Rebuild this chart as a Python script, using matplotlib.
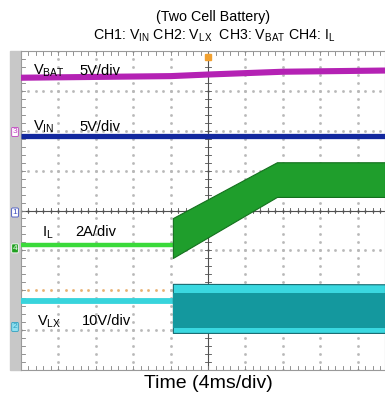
import numpy as np
import matplotlib
matplotlib.use('Agg')
import matplotlib.pyplot as plt

plt.rcParams['font.family'] = ['Liberation Sans', 'DejaVu Sans']
plt.rcParams['mathtext.default'] = 'regular'

# screen in divisions: 10 x 8, right edge of capture is cut at ~9.73 div
X_MAX = 9.73
STEP_T = 4.06      # converter starts switching
RAMP_END = 6.84    # inductor current stops ramping

# CH3 V_BAT (5V/div)
vbat_t = [0.0, 4.0, 5.0, 7.0, X_MAX]
vbat_y = [7.33, 7.37, 7.41, 7.48, 7.51]

# CH1 V_IN (5V/div)
vin_t = [0.0, X_MAX]
vin_y = [5.86, 5.86]

# CH4 I_L (2A/div)
il_flat_t = [0.0, STEP_T]
il_flat_y = [3.13, 3.13]
il_band_t = [STEP_T, RAMP_END, X_MAX]
il_band_top = [3.81, 5.21, 5.21]
il_band_bot = [2.81, 4.34, 4.34]

# CH2 V_LX (10V/div)
vlx_flat_t = [0.0, STEP_T]
vlx_flat_y = [1.73, 1.73]
vlx_band_t = [STEP_T, X_MAX]
vlx_outer_top = [2.16, 2.15]
vlx_outer_bot = [0.93, 0.93]
vlx_inner_top = [1.93, 1.93]
vlx_inner_bot = [1.05, 1.05]

fig = plt.figure(figsize=(3.85, 3.96), dpi=100)
W, H = 385, 396
ax = fig.add_axes([21 / W, 26 / H, (W - 21) / W, 319 / H])
ax.set_zorder(2)
ax.set_xlim(0, X_MAX)
ax.set_ylim(0, 8)
ax.set_xticks([])
ax.set_yticks([])
for s in ax.spines.values():
    s.set_color('#9a9a9a')
    s.set_linewidth(0.8)

# gray strip left of the screen
fig.patches.append(plt.Rectangle((10 / W, 26 / H), 11 / W, 319 / H,
                                 transform=fig.transFigure, color='#c8c8c8', zorder=-1))

# dotted graticule
dots = np.arange(0, X_MAX, 0.2)
for gy in range(1, 8):
    col = '#e8b070' if gy == 2 else '#b8b8b8'
    ax.plot(dots, np.full_like(dots, gy), ls='none', marker='s', ms=0.9, color=col, zorder=1)
ydots = np.arange(0, 8.01, 0.2)
for gx in range(1, 10):
    if gx == 5:
        continue
    ax.plot(np.full_like(ydots, gx), ydots, ls='none', marker='s', ms=0.9, color='#b8b8b8', zorder=1)

# center cross with minor ticks
ax.axhline(4, color='#505050', lw=0.8, zorder=1)
ax.axvline(5, color='#505050', lw=0.8, zorder=1)
for tx in np.arange(0, X_MAX, 0.2):
    ax.plot([tx, tx], [3.93, 4.07], color='#505050', lw=0.6, zorder=1)
    ax.plot([tx, tx], [7.9, 8.0], color='#808080', lw=0.6, zorder=1)
    ax.plot([tx, tx], [0.0, 0.1], color='#808080', lw=0.6, zorder=1)
for ty in np.arange(0, 8.01, 0.2):
    ax.plot([4.92, 5.08], [ty, ty], color='#505050', lw=0.6, zorder=1)
    ax.plot([0, 0.1], [ty, ty], color='#808080', lw=0.6, zorder=1)

# traces
ax.plot(vbat_t, vbat_y, color='#b422b4', lw=4.4, solid_capstyle='butt', zorder=3)
ax.plot(vin_t, vin_y, color='#12289e', lw=3.8, solid_capstyle='butt', zorder=3)

ax.plot(il_flat_t, il_flat_y, color='#3ada3a', lw=3.2, solid_capstyle='butt', zorder=3)
ax.fill_between(il_band_t, il_band_bot, il_band_top, color='#1f9e2c',
                edgecolor='#14701e', lw=0.8, zorder=3)

ax.plot(vlx_flat_t, vlx_flat_y, color='#38d4dc', lw=4.2, solid_capstyle='butt', zorder=3)
ax.fill_between(vlx_band_t, vlx_outer_bot, vlx_outer_top, color='#3ad8e0',
                edgecolor='#186a70', lw=0.8, zorder=3)
ax.fill_between(vlx_band_t, vlx_inner_bot, vlx_inner_top, color='#14989e', lw=0, zorder=3)

# trigger marker
ax.plot([5.0], [7.85], marker='s', ms=5, color='#f0a030', zorder=4)

# channel reference markers on the left edge
markers = [('3', 5.97, '#c040c0', 'white'), ('1', 3.95, '#4050c0', 'white'),
           ('4', 3.05, 'white', '#20a020'), ('2', 1.08, '#30a0c0', '#90e0f0')]
for lab, yy, tc, fc in markers:
    ax.text(-0.16, yy, lab, fontsize=6, color=tc, ha='center', va='center', clip_on=False,
            bbox=dict(boxstyle='round,pad=0.12', fc=fc, ec=tc, lw=0.6), zorder=5)

# channel labels
lab_fs = 10.5
ax.text(0.32, 7.4, r'V$_{BAT}$', fontsize=lab_fs, zorder=5)
ax.text(1.55, 7.4, '5V/div', fontsize=lab_fs, zorder=5)
ax.text(0.32, 6.0, r'V$_{IN}$', fontsize=lab_fs, zorder=5)
ax.text(1.55, 6.0, '5V/div', fontsize=lab_fs, zorder=5)
ax.text(0.57, 3.35, r'I$_{L}$', fontsize=lab_fs, zorder=5)
ax.text(1.45, 3.35, '2A/div', fontsize=lab_fs, zorder=5)
ax.text(0.42, 1.12, r'V$_{LX}$', fontsize=lab_fs, zorder=5)
ax.text(1.63, 1.12, '10V/div', fontsize=lab_fs, zorder=5)

fig.text(213 / W, 1 - 17 / H, '(Two Cell Battery)', fontsize=10.3, ha='center', va='center')
fig.text(214 / W, 1 - 36 / H,
         r'CH1: V$_{IN}$ CH2: V$_{LX}$  CH3: V$_{BAT}$ CH4: I$_{L}$',
         fontsize=10.2, ha='center', va='center')
fig.text(208 / W, 1 - 384 / H, 'Time (4ms/div)', fontsize=14, ha='center', va='center')

fig.savefig('out.png', dpi=100)
plt.close(fig)
